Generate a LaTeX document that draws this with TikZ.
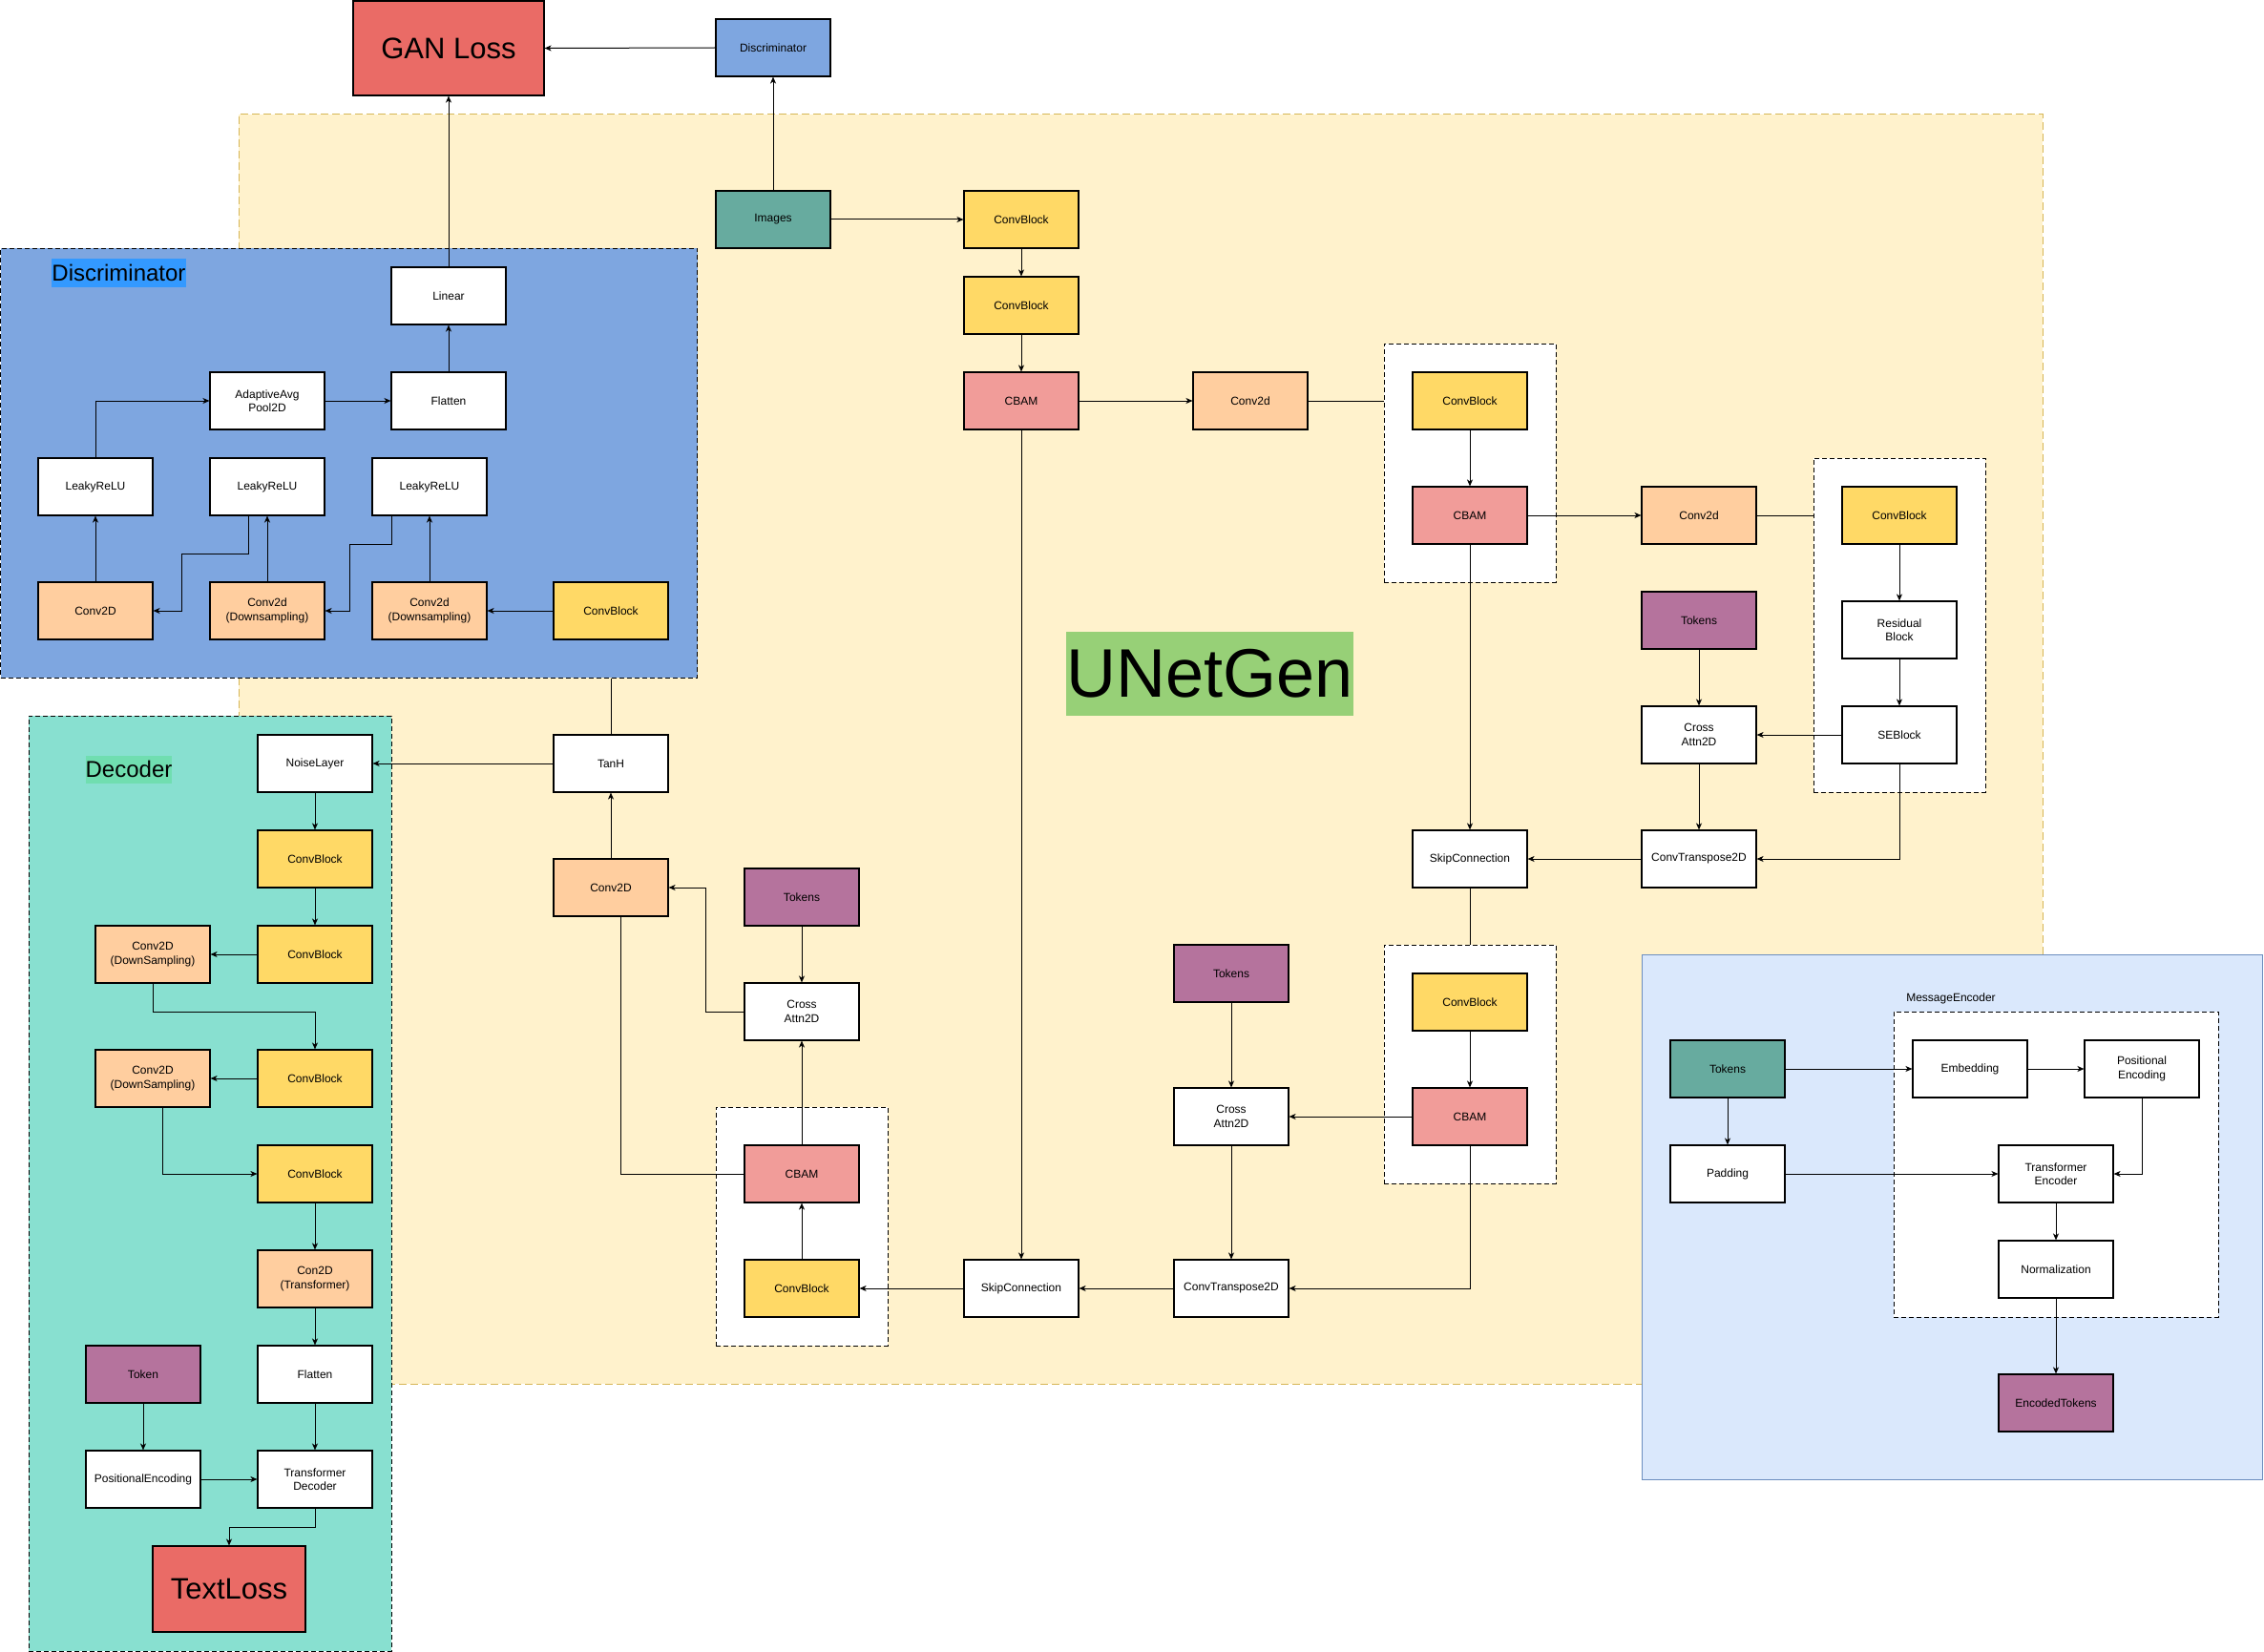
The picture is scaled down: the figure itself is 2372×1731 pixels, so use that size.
\documentclass[tikz,border=0pt]{standalone}
\usepackage{fontspec}
\setmainfont{Liberation Sans}
\usetikzlibrary{arrows.meta}
\definecolor{cbY}{HTML}{FFD966}
\definecolor{cbamR}{HTML}{F19C99}
\definecolor{convO}{HTML}{FFCE9F}
\definecolor{tokP}{HTML}{B5739D}
\definecolor{tealC}{HTML}{67AB9F}
\definecolor{lossR}{HTML}{EA6B66}
\definecolor{discB}{HTML}{7EA6E0}
\definecolor{yelBg}{HTML}{FFF2CC}
\definecolor{yelSt}{HTML}{D6B656}
\definecolor{decF}{HTML}{88E0D0}
\definecolor{decL}{HTML}{70DEB0}
\definecolor{discL}{HTML}{3399FF}
\definecolor{unetG}{HTML}{97D077}
\definecolor{msgF}{HTML}{DAE8FC}
\definecolor{msgS}{HTML}{6C8EBF}
\begin{document}
\begin{tikzpicture}[x=1pt,y=-1pt,
  box/.style={draw=black,line width=1.1pt,minimum width=120pt,minimum height=60pt,inner sep=0pt,align=center,font=\fontsize{12}{14.4}\selectfont,fill=white},
  cbx/.style={box,fill=cbY},
  cbamx/.style={box,fill=cbamR},
  convx/.style={box,fill=convO},
  tokx/.style={box,fill=tokP},
  tealx/.style={box,fill=tealC},
  grp/.style={draw=black,line width=1pt,dash pattern=on 5pt off 3pt,fill=white,inner sep=0pt},
  arr/.style={-{Stealth[length=7pt,width=6pt,inset=2pt]},line width=1pt},
  ln/.style={line width=1pt}]
\useasboundingbox (0,0) rectangle (2372,1731);
\fill[white] (0,0) rectangle (2372,1731);

% containers
\node[draw=yelSt,fill=yelBg,line width=1pt,dash pattern=on 8pt off 4pt,inner sep=0pt,minimum width=1890pt,minimum height=1330pt] (ybg) at (1195,785) {};
\node[grp,fill=discB,minimum width=730pt,minimum height=450pt] (disc) at (365.5,485) {};
\node[grp,fill=decF,minimum width=380pt,minimum height=980pt] (dec) at (220,1240) {};
\node[draw=msgS,fill=msgF,line width=1pt,inner sep=0pt,minimum width=650pt,minimum height=550pt] (msg) at (2045,1275) {};
\node[grp,minimum width=180pt,minimum height=250pt] (g1) at (1540,485) {};
\node[grp,minimum width=180pt,minimum height=350pt] (g2) at (1990,655) {};
\node[grp,minimum width=180pt,minimum height=250pt] (g3) at (1540,1115) {};
\node[grp,minimum width=180pt,minimum height=250pt] (g4) at (840,1285) {};
\node[grp,minimum width=340pt,minimum height=320pt] (g5) at (2154,1220) {};

% labels
\node[fill=discL,inner sep=0pt,minimum width=140pt,minimum height=30pt,font=\fontsize{24}{28}\selectfont] (disclab) at (124.5,286) {Discriminator};
\node[fill=decL,inner sep=0pt,minimum width=90pt,minimum height=29pt,font=\fontsize{24}{28}\selectfont] (declab) at (135,806) {Decoder};
\node[fill=unetG,inner sep=0pt,minimum width=300pt,minimum height=88pt,font=\fontsize{72}{80}\selectfont] (unet) at (1267.5,706) {UNetGen};
\node[inner sep=0pt,font=\fontsize{12}{14.4}\selectfont] (msglab) at (2044,1046) {MessageEncoder};

% top
\node[box,fill=lossR,minimum width=200pt,minimum height=99pt,font=\fontsize{31}{36}\selectfont] (gan) at (470,50.5) {GAN Loss};
\node[box,fill=discB] (discT) at (810,50) {Discriminator};
\node[tealx] (images) at (810,230) {Images};

% UNet main path
\node[cbx] (cb1) at (1070,230) {ConvBlock};
\node[cbx] (cb2) at (1070,320) {ConvBlock};
\node[cbamx] (cbam1) at (1070,420) {CBAM};
\node[convx] (c2a) at (1310,420) {Conv2d};
\node[cbx] (cb3) at (1540,420) {ConvBlock};
\node[cbamx] (cbam2) at (1540,540) {CBAM};
\node[convx] (c2b) at (1780,540) {Conv2d};
\node[cbx] (cb4) at (1990,540) {ConvBlock};
\node[box] (res) at (1990,660) {Residual\\Block};
\node[box] (se) at (1990,770) {SEBlock};
\node[tokx] (tok1) at (1780,650) {Tokens};
\node[box] (ca1) at (1780,770) {Cross\\Attn2D};
\node[box] (ct1) at (1780,900) {ConvTranspose2D};
\node[box] (skip1) at (1540,900) {SkipConnection};
\node[cbx] (cb5) at (1540,1050) {ConvBlock};
\node[cbamx] (cbam3) at (1540,1170) {CBAM};
\node[tokx] (tok2) at (1290,1020) {Tokens};
\node[box] (ca2) at (1290,1170) {Cross\\Attn2D};
\node[box] (ct2) at (1290,1350) {ConvTranspose2D};
\node[box] (skip2) at (1070,1350) {SkipConnection};
\node[cbx] (cb6) at (840,1350) {ConvBlock};
\node[cbamx] (cbam4) at (840,1230) {CBAM};
\node[box] (ca3) at (840,1060) {Cross\\Attn2D};
\node[tokx] (tok3) at (840,940) {Tokens};
\node[convx] (c2c) at (640,930) {Conv2D};
\node[box] (tanh) at (640,800) {TanH};

% discriminator
\node[box] (linear) at (470,310) {Linear};
\node[box] (flat) at (470,420) {Flatten};
\node[box] (pool) at (280,420) {AdaptiveAvg\\Pool2D};
\node[box] (lr1) at (100,510) {LeakyReLU};
\node[box] (lr2) at (280,510) {LeakyReLU};
\node[box] (lr3) at (450,510) {LeakyReLU};
\node[convx] (dc0) at (100,640) {Conv2D};
\node[convx] (ds1) at (280,640) {Conv2d\\(Downsampling)};
\node[convx] (ds2) at (450,640) {Conv2d\\(Downsampling)};
\node[cbx] (dcb) at (640,640) {ConvBlock};

% decoder
\node[box] (noise) at (330,800) {NoiseLayer};
\node[cbx] (ecb1) at (330,900) {ConvBlock};
\node[cbx] (ecb2) at (330,1000) {ConvBlock};
\node[convx] (eds1) at (160,1000) {Conv2D\\(DownSampling)};
\node[cbx] (ecb3) at (330,1130) {ConvBlock};
\node[convx] (eds2) at (160,1130) {Conv2D\\(DownSampling)};
\node[cbx] (ecb4) at (330,1230) {ConvBlock};
\node[convx] (etr) at (330,1340) {Con2D\\(Transformer)};
\node[box] (eflat) at (330,1440) {Flatten};
\node[tokx] (etok) at (150,1440) {Token};
\node[box] (epos) at (150,1550) {PositionalEncoding};
\node[box] (etdec) at (330,1550) {Transformer\\Decoder};
\node[box,fill=lossR,minimum width=160pt,minimum height=90pt,font=\fontsize{31}{36}\selectfont] (tloss) at (240,1665) {TextLoss};

% message encoder
\node[tealx] (mtok) at (1810,1120) {Tokens};
\node[box] (pad) at (1810,1230) {Padding};
\node[box] (emb) at (2064,1120) {Embedding};
\node[box] (pe) at (2244,1120) {Positional\\Encoding};
\node[box] (te) at (2154,1230) {Transformer\\Encoder};
\node[box] (norm) at (2154,1330) {Normalization};
\node[tokx] (enc) at (2154,1470) {EncodedTokens};

% edges: top
\draw[arr] (discT.west) -- (gan.east);
\draw[arr] (images.north) -- (discT.south);
\draw[arr] (images.east) -- (cb1.west);
\draw[arr] (cb1.south) -- (cb2.north);
\draw[arr] (cb2.south) -- (cbam1.north);
\draw[arr] (cbam1.east) -- (c2a.west);
\draw[ln] (c2a.east) -- (c2a.east -| g1.west);
\draw[arr] (cb3.south) -- (cbam2.north);
\draw[arr] (cbam2.east) -- (c2b.west);
\draw[ln] (c2b.east) -- (c2b.east -| g2.west);
\draw[arr] (cb4.south) -- (res.north);
\draw[arr] (res.south) -- (se.north);
\draw[arr] (tok1.south) -- (ca1.north);
\draw[arr] (se.west) -- (ca1.east);
\draw[arr] (ca1.south) -- (ct1.north);
\draw[arr] (se.south) |- (ct1.east);
\draw[arr] (ct1.west) -- (skip1.east);
\draw[arr] (cbam2.south) -- (skip1.north);
\draw[ln] (skip1.south) -- (skip1.south |- g3.north);
\draw[arr] (cb5.south) -- (cbam3.north);
\draw[arr] (cbam3.west) -- (ca2.east);
\draw[arr] (tok2.south) -- (ca2.north);
\draw[arr] (ca2.south) -- (ct2.north);
\draw[arr] (cbam3.south) |- (ct2.east);
\draw[arr] (ct2.west) -- (skip2.east);
\draw[arr] (cbam1.south) -- (skip2.north);
\draw[arr] (skip2.west) -- (cb6.east);
\draw[arr] (cb6.north) -- (cbam4.south);
\draw[arr] (cbam4.north) -- (ca3.south);
\draw[arr] (tok3.south) -- (ca3.north);
\draw[arr] (ca3.west) -- ++(-40,0) |- (c2c.east);
\draw[ln] ([xshift=10pt]c2c.south) |- (cbam4.west);
\draw[arr] (c2c.north) -- (tanh.south);
\draw[ln] (tanh.north) -- (tanh.north |- disc.south);
\draw[arr] (tanh.west) -- (noise.east);

% edges: discriminator
\draw[arr] (dcb.west) -- (ds2.east);
\draw[arr] (ds2.north) -- (lr3.south);
\draw[arr] ([xshift=-40pt]lr3.south) -- ++(0,30) -| ([xshift=26pt]ds1.east) -- (ds1.east);
\draw[arr] (ds1.north) -- (lr2.south);
\draw[arr] ([xshift=-20pt]lr2.south) -- ++(0,40) -| ([xshift=30pt]dc0.east) -- (dc0.east);
\draw[arr] (dc0.north) -- (lr1.south);
\draw[arr] (lr1.north) |- (pool.west);
\draw[arr] (pool.east) -- (flat.west);
\draw[arr] (flat.north) -- (linear.south);
\draw[arr] (linear.north) -- (gan.south);

% edges: decoder
\draw[arr] (noise.south) -- (ecb1.north);
\draw[arr] (ecb1.south) -- (ecb2.north);
\draw[arr] (ecb2.west) -- (eds1.east);
\draw[arr] (eds1.south) -- ++(0,30) -| (ecb3.north);
\draw[arr] (ecb3.west) -- (eds2.east);
\draw[arr] ([xshift=10pt]eds2.south) |- (ecb4.west);
\draw[arr] (ecb4.south) -- (etr.north);
\draw[arr] (etr.south) -- (eflat.north);
\draw[arr] (eflat.south) -- (etdec.north);
\draw[arr] (etok.south) -- (epos.north);
\draw[arr] (epos.east) -- (etdec.west);
\draw[arr] (etdec.south) -- ++(0,20) -| (tloss.north);

% edges: message encoder
\draw[arr] (mtok.east) -- (emb.west);
\draw[arr] (emb.east) -- (pe.west);
\draw[arr] (pe.south) |- (te.east);
\draw[arr] (pad.east) -- (te.west);
\draw[arr] (mtok.south) -- (pad.north);
\draw[arr] (te.south) -- (norm.north);
\draw[arr] (norm.south) -- (enc.north);
\end{tikzpicture}
\end{document}
